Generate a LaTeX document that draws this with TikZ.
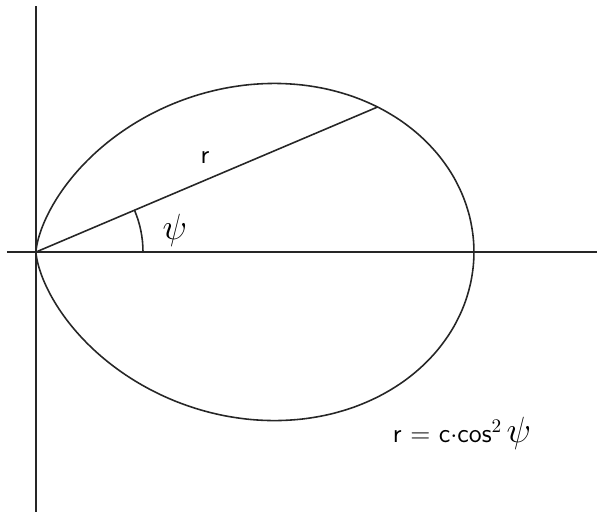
\documentclass[tikz,border=0pt]{standalone}
\usepackage{tikz}
\usetikzlibrary{positioning}
\usepackage{amsmath}

\begin{document}
\begin{tikzpicture}[
  x=0.02cm, y=0.02cm,
  axis/.style={line width=0.9pt, color=black!85},
  curve/.style={line width=0.9pt, color=black!85},
  lbl/.style={font=\fontsize{15}{17}\selectfont\sffamily, inner sep=1pt},
  greek/.style={font=\fontsize{21}{23}\selectfont, inner sep=1pt},
]
\useasboundingbox (-36,-260) rectangle (563,252);
% Axes
\coordinate (O) at (0,0);
\coordinate (xl) at (-29,0);
\coordinate (xr) at (561,0);
\coordinate (yt) at (0,246);
\coordinate (yb) at (0,-260);
\draw[axis] (xl) -- (xr);
\draw[axis] (yt) -- (yb);

% Curve r = c cos^2 psi
\draw[curve] plot[domain=-90:90, samples=240, smooth, variable=\t]
  ({438*cos(\t)^3}, {438*cos(\t)^2*sin(\t)});

% Radius and angle
\coordinate (P) at ({438*cos(23)^3}, {438*cos(23)^2*sin(23)});
\draw[curve] (O) -- (P);
\draw[curve] (107,0) arc[start angle=0, end angle=23, radius=107];

% Labels
\node[lbl] (rlab) at (169,94) {r};
\node[greek] (psilab) at (139,22) {$\psi$};
\node[lbl] (eq) at (426,-181) {r = c$\cdot$cos$^{2}$\,{\fontsize{21}{23}\selectfont$\psi$}};
\end{tikzpicture}
\end{document}
